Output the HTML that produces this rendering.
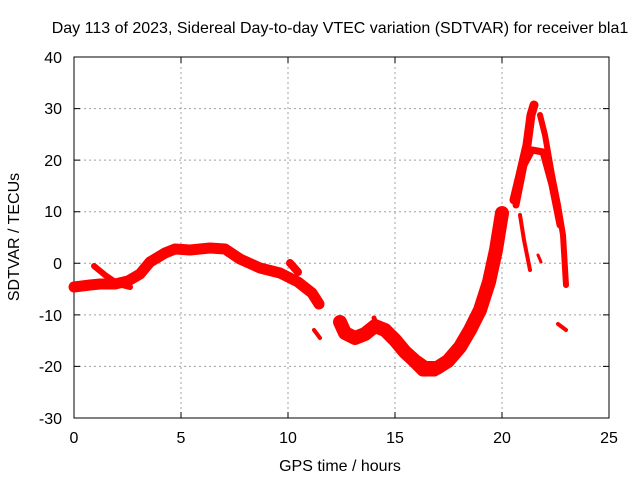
<!DOCTYPE html>
<html><head><meta charset="utf-8"><style>body{margin:0;background:#fff}svg{display:block}text{font-family:"Liberation Sans",sans-serif;font-size:16px;fill:#000}</style></head><body>
<svg width="640" height="480" viewBox="0 0 640 480">
<rect width="640" height="480" fill="#fff"/>
<g stroke="#a0a0a0" stroke-dasharray="2,3" stroke-width="1">
<line x1="74" y1="108.6" x2="609" y2="108.6"/><line x1="74" y1="160.1" x2="609" y2="160.1"/><line x1="74" y1="211.7" x2="609" y2="211.7"/><line x1="74" y1="263.3" x2="609" y2="263.3"/><line x1="74" y1="314.9" x2="609" y2="314.9"/><line x1="74" y1="366.4" x2="609" y2="366.4"/>
<line x1="181" y1="57" x2="181" y2="418"/><line x1="288" y1="57" x2="288" y2="418"/><line x1="395" y1="57" x2="395" y2="418"/><line x1="502" y1="57" x2="502" y2="418"/>
</g>
<g stroke="#000" stroke-width="1" fill="none">
<rect x="74" y="57" width="535" height="361"/>
<path d="M74 108.6h6M74 160.1h6M74 211.7h6M74 263.3h6M74 314.9h6M74 366.4h6M609 108.6h-6M609 160.1h-6M609 211.7h-6M609 263.3h-6M609 314.9h-6M609 366.4h-6M181 418v-6M288 418v-6M395 418v-6M502 418v-6M181 57v6M288 57v6M395 57v6M502 57v6"/>
</g>
<g text-anchor="end">
<text x="62" y="63">40</text><text x="62" y="114">30</text><text x="62" y="166">20</text><text x="62" y="217">10</text><text x="62" y="269">0</text><text x="62" y="321">-10</text><text x="62" y="372">-20</text><text x="62" y="424">-30</text>
</g>
<g text-anchor="middle">
<text x="74" y="443">0</text><text x="181" y="443">5</text><text x="288" y="443">10</text><text x="395" y="443">15</text><text x="502" y="443">20</text><text x="609" y="443">25</text>
<text x="340" y="471">GPS time / hours</text>
<text x="340" y="33">Day 113 of 2023, Sidereal Day-to-day VTEC variation (SDTVAR) for receiver bla1</text>
<text transform="translate(19,237) rotate(-90)">SDTVAR / TECUs</text>
</g>
<g stroke="#f00" fill="none" stroke-linejoin="round" stroke-linecap="round">
<path stroke-width="11" d="M74 287L90 285L100 284L115 284L128 281L140 274L150 262L165 253L175 249L190 250L210 248L225 249L240 259L260 268L280 273L298 282L312 293L319 304"/>
<path stroke-width="6" d="M94 266L105 275L118 284L130 287"/>
<path stroke-width="8" d="M290 263L298 272"/>
<path stroke-width="14" d="M340 322L345 333L355 338L365 334L375 326L385 330L395 340L405 352L415 361L425 368L437 368L448 361L460 347L470 330L480 310L489 282L496 250L502 213"/>
<path stroke-width="9" d="M400 350L412 362L422 372L435 372"/>
<path stroke-width="5" d="M374 318L378 330"/>
<path stroke-width="4" d="M314 330L320 338"/>
<path stroke-width="9" d="M514 200L520 175L527 145L531 115L534 105"/>
<path stroke-width="6" d="M540 115L545 135L552 175L558 205L563 235L566 285"/>
<path stroke-width="7" d="M516 205L524 165L532 150L543 152L552 185L560 225"/>
<path stroke-width="4" d="M520 215L524 240L530 270"/>
<path stroke-width="3" d="M538 255L541 262"/>
<path stroke-width="4" d="M558 324L566 330"/>
</g>
</svg>
</body></html>
